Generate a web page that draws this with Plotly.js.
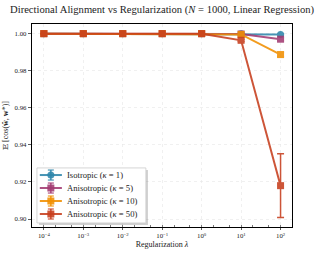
<!DOCTYPE html>
<html><head><meta charset="utf-8">
<script src="https://cdn.plot.ly/plotly-3.0.1.min.js"></script>
<style>html,body{margin:0;padding:0;background:#fff}#c{width:319px;height:253px}</style>
</head><body><div id="c"></div>
<script>
const lambdas = [1e-4, 1e-3, 1e-2, 1e-1, 1, 10, 100];
const seriesNames = ['Isotropic (<i>κ</i> = 1)', 'Anisotropic (<i>κ</i> = 5)', 'Anisotropic (<i>κ</i> = 10)', 'Anisotropic (<i>κ</i> = 50)'];
const iso = [1.0, 1.0, 1.0, 1.0, 1.0, 1.0, 0.9996];
const iso_err = [0, 0, 0, 0, 0, 0, 0.0004];
const k5 = [1.0, 1.0, 1.0, 1.0, 1.0, 0.9998, 0.9970];
const k5_err = [0, 0, 0, 0, 0, 0.0001, 0.0008];
const k10 = [1.0, 1.0, 1.0, 1.0, 1.0, 0.9996, 0.9887];
const k10_err = [0, 0, 0, 0, 0, 0.0002, 0.0012];
const k50 = [1.0, 1.0, 1.0, 1.0, 1.0, 0.9964, 0.9180];
const k50_err = [0, 0, 0, 0, 0, 0.0006, 0.0172];
const xTickVals = [1e-4, 1e-3, 1e-2, 1e-1, 1, 10, 100];
const xTickText = ['10<sup>−4</sup>','10<sup>−3</sup>','10<sup>−2</sup>','10<sup>−1</sup>','10<sup>0</sup>','10<sup>1</sup>','10<sup>2</sup>'];
const yTickVals = [0.90, 0.92, 0.94, 0.96, 0.98, 1.00];
const yTickText = ['0.90','0.92','0.94','0.96','0.98','1.00'];

const colors = ['#2E86AB', '#A23B72', '#F18F01', '#C73E1D'];
const symbols = ['circle', 'square', 'square', 'square'];
const ys = [iso, k5, k10, k50];
const errs = [iso_err, k5_err, k10_err, k50_err];

const traces = ys.map((y, i) => ({
  x: lambdas, y: y, name: seriesNames[i], type: 'scatter', mode: 'lines+markers',
  line: {color: colors[i], width: 2},
  marker: {color: colors[i], symbol: symbols[i], size: 7},
  error_y: {type: 'data', array: errs[i], visible: true, color: colors[i], thickness: 1.5, width: 3.5},
  opacity: 0.88, showlegend: false
}));

const font = {family: '"Liberation Serif", "DejaVu Serif", serif', color: '#222'};

// custom compact legend (paper coordinates)
const shapes = [];
const annotations = [];
const lg = {x0: 0.019, x1: 0.438, y0: 0.02, y1: 0.291};
shapes.push({type: 'rect', xref: 'paper', yref: 'paper', x0: lg.x0 + 0.008, x1: lg.x1 + 0.008, y0: lg.y0 - 0.01, y1: lg.y1 - 0.01,
             fillcolor: 'rgba(0,0,0,0.18)', line: {width: 0}, layer: 'above'});
shapes.push({type: 'rect', xref: 'paper', yref: 'paper', x0: lg.x0, x1: lg.x1, y0: lg.y0, y1: lg.y1,
             fillcolor: 'rgba(255,255,255,1)', line: {width: 0.8, color: '#cccccc'}, layer: 'above'});
const entryY = [0.256, 0.192, 0.128, 0.064];
seriesNames.forEach((nm, i) => {
  const yy = entryY[i];
  shapes.push({type: 'line', xref: 'paper', yref: 'paper', x0: 0.03, x1: 0.115, y0: yy, y1: yy,
               line: {color: colors[i], width: 2}, opacity: 0.88, layer: 'above'});
  shapes.push({type: 'line', xref: 'paper', yref: 'paper', xsizemode: 'pixel', ysizemode: 'pixel',
               xanchor: 0.0725, yanchor: yy, x0: 0, x1: 0, y0: -5, y1: 5,
               line: {color: colors[i], width: 1.5}, opacity: 0.88, layer: 'above'});
  shapes.push({type: 'line', xref: 'paper', yref: 'paper', xsizemode: 'pixel', ysizemode: 'pixel',
               xanchor: 0.0725, yanchor: yy, x0: -3, x1: 3, y0: 5, y1: 5,
               line: {color: colors[i], width: 1.2}, opacity: 0.88, layer: 'above'});
  shapes.push({type: 'line', xref: 'paper', yref: 'paper', xsizemode: 'pixel', ysizemode: 'pixel',
               xanchor: 0.0725, yanchor: yy, x0: -3, x1: 3, y0: -5, y1: -5,
               line: {color: colors[i], width: 1.2}, opacity: 0.88, layer: 'above'});
  shapes.push({type: symbols[i] === 'circle' ? 'circle' : 'rect', xref: 'paper', yref: 'paper',
               xsizemode: 'pixel', ysizemode: 'pixel', xanchor: 0.0725, yanchor: yy,
               x0: -3.5, x1: 3.5, y0: -3.5, y1: 3.5,
               fillcolor: colors[i], line: {width: 0}, opacity: 0.88, layer: 'above'});
  annotations.push({xref: 'paper', yref: 'paper', x: 0.127, y: yy, xanchor: 'left', yanchor: 'middle',
                    text: nm, showarrow: false, font: Object.assign({size: 8.6}, font)});
});

const layout = {
  width: 319, height: 253,
  margin: {l: 32, r: 27, t: 24, b: 26},
  paper_bgcolor: '#fff', plot_bgcolor: '#fff',
  font: Object.assign({size: 7}, font),
  title: {text: 'Directional Alignment vs Regularization (<i>N</i> = 1000, Linear Regression)',
          font: Object.assign({size: 10.6}, font), x: 0.508, xanchor: 'center', y: 0.962, yanchor: 'middle'},
  xaxis: {type: 'log', range: [-4.3, 2.29], tickvals: xTickVals, ticktext: xTickText,
          ticks: 'outside', ticklen: 2, tickwidth: 0.8, tickcolor: '#333',
          showgrid: true, gridcolor: '#e6e6e6', griddash: 'dot', gridwidth: 0.6,
          showline: true, linecolor: '#000', linewidth: 1.2, mirror: true, zeroline: false,
          tickfont: Object.assign({size: 6.8}, font),
          minor: {ticks: 'inside', ticklen: 2, tickcolor: '#555', showgrid: false},
          title: {text: 'Regularization <i>λ</i>', font: Object.assign({size: 8}, font), standoff: 3}},
  yaxis: {range: [0.8957, 1.0052], tickvals: yTickVals, ticktext: yTickText,
          ticks: 'outside', ticklen: 3, tickwidth: 0.8, tickcolor: '#333',
          showgrid: true, gridcolor: '#e6e6e6', griddash: 'dot', gridwidth: 0.6,
          showline: true, linecolor: '#000', linewidth: 1.2, mirror: true, zeroline: false,
          tickfont: Object.assign({size: 6.8}, font),
          title: {text: '𝔼 [cos(<b>ŵ</b>, <b>w</b>*)]', font: Object.assign({size: 8}, font), standoff: 4}},
  shapes: shapes,
  annotations: annotations,
  showlegend: false
};
Plotly.newPlot('c', traces, layout, {staticPlot: true, displayModeBar: false});
</script></body></html>
